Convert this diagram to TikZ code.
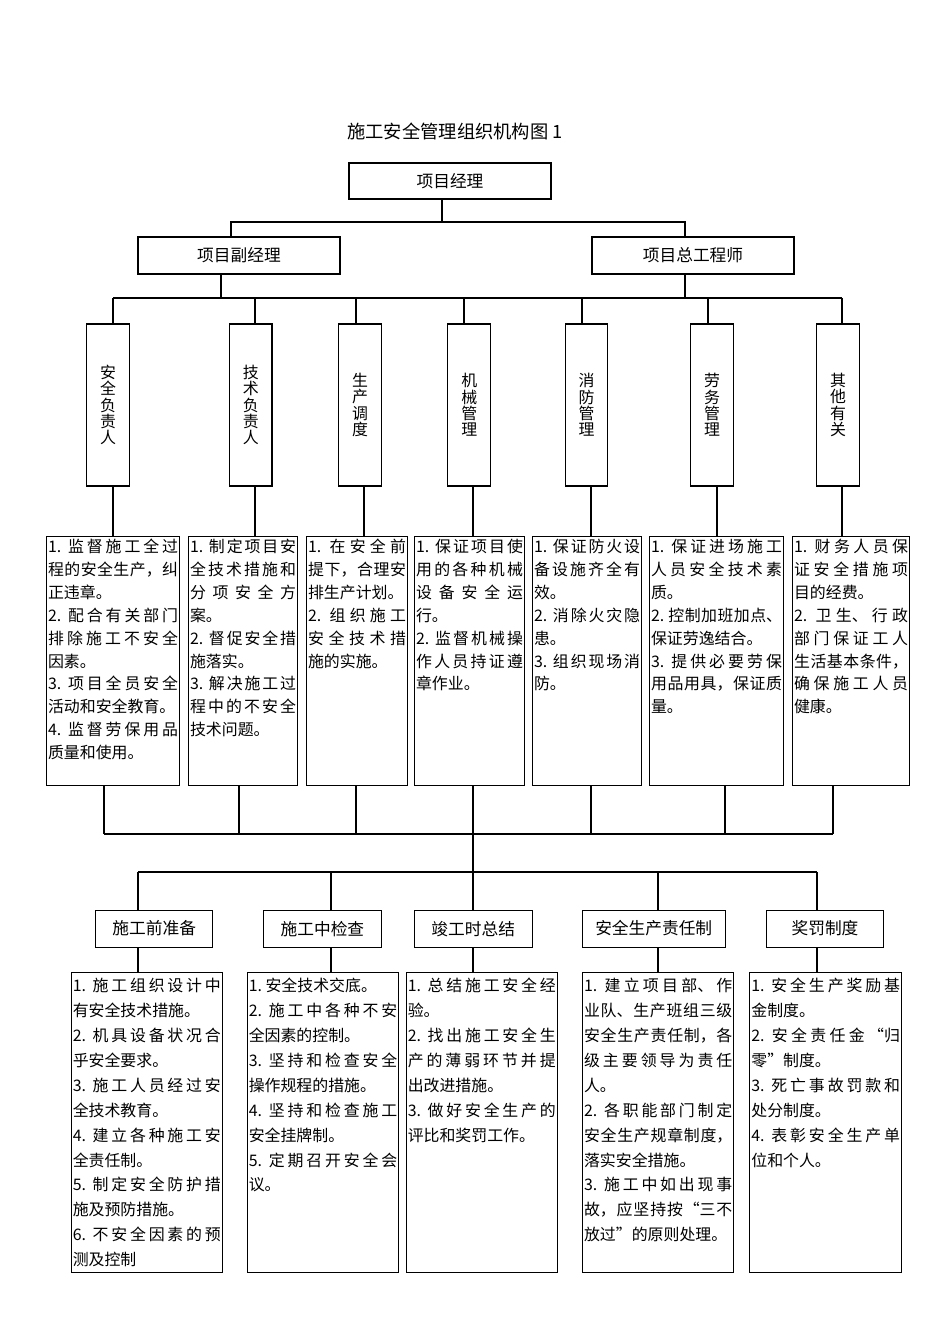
\documentclass[tikz,border=0pt]{standalone}
\usepackage{fontspec}
\setmainfont{Noto Sans CJK SC}
\XeTeXlinebreaklocale "zh"
\XeTeXlinebreakskip=0pt plus 1pt
\tolerance=10000
\hbadness=10000
\frenchspacing
\newlength\pxu
\setlength\pxu{0.0221cm}
\newcommand\lnbr{\linebreak}

\begin{document}
\begin{tikzpicture}[x=\pxu, y=-\pxu, line width=0.7pt,
  post/.style={draw, inner sep=0pt, minimum height=37\pxu, font=\fontsize{10.5}{12}\selectfont},
  role/.style={draw, inner sep=0pt, minimum width=42.6\pxu, minimum height=162\pxu, align=center, font=\fontsize{10}{10.2}\selectfont},
  duty/.style={draw, anchor=north west, inner xsep=1.5\pxu, inner ysep=0pt, text width=#1, align=justify, text height=16\pxu, text depth=233\pxu, font=\fontsize{10}{14.4}\selectfont},
  task/.style={draw, anchor=north west, inner xsep=1.5\pxu, inner ysep=0pt, text width=#1, align=justify, text height=19\pxu, text depth=281\pxu, font=\fontsize{10}{15.67}\selectfont}]
\useasboundingbox (0,0) rectangle (950,1344);
\node[font=\fontsize{11.5}{14}\selectfont] (title) at (455,131) {施工安全管理组织机构图 1};
\node[post, minimum width=202\pxu, minimum height=36\pxu] (pm) at (450,181) {项目经理};
\node[post, minimum width=202\pxu] (vpm) at (239,255.5) {项目副经理};
\node[post, minimum width=202\pxu] (eng) at (693,255.5) {项目总工程师};
\node[role] (t1) at (108,405) {安\\全\\负\\责\\人};
\node[role] (t2) at (250.7,405) {技\\术\\负\\责\\人};
\node[role] (t3) at (360,405) {生\\产\\调\\度};
\node[role] (t4) at (469.2,405) {机\\械\\管\\理};
\node[role] (t5) at (586.5,405) {消\\防\\管\\理};
\node[role] (t6) at (712,405) {劳\\务\\管\\理};
\node[role] (t7) at (838,405) {其\\他\\有\\关};
\node[duty=130\pxu] (d1) at (46,536) {1. 监督施工全过\lnbr 程的安全生产，纠\lnbr 正违章。\par 2. 配合有关部门\lnbr 排除施工不安全\lnbr 因素。\par 3. 项目全员安全\lnbr 活动和安全教育。\par 4. 监督劳保用品\lnbr 质量和使用。};
\node[duty=106\pxu] (d2) at (188,536) {1. 制定项目安\lnbr 全技术措施和\lnbr 分项安全方\lnbr 案。\par 2. 督促安全措\lnbr 施落实。\par 3. 解决施工过\lnbr 程中的不安全\lnbr 技术问题。};
\node[duty=98\pxu] (d3) at (306,536) {1. 在安全前\lnbr 提下，合理安\lnbr 排生产计划。\par 2. 组织施工\lnbr 安全技术措\lnbr 施的实施。};
\node[duty=107\pxu] (d4) at (414,536) {1. 保证项目使\lnbr 用的各种机械\lnbr 设备安全运\lnbr 行。\par 2. 监督机械操\lnbr 作人员持证遵\lnbr 章作业。};
\node[duty=106\pxu] (d5) at (532,536) {1. 保证防火设\lnbr 备设施齐全有\lnbr 效。\par 2. 消除火灾隐\lnbr 患。\par 3. 组织现场消\lnbr 防。};
\node[duty=131\pxu] (d6) at (649,536) {1. 保证进场施工\lnbr 人员安全技术素\lnbr 质。\par 2. 控制加班加点、\lnbr 保证劳逸结合。\par 3. 提供必要劳保\lnbr 用品用具，保证质\lnbr 量。};
\node[duty=114\pxu] (d7) at (792,536) {1. 财务人员保\lnbr 证安全措施项\lnbr 目的经费。\par 2. 卫生、行政\lnbr 部门保证工人\lnbr 生活基本条件，\lnbr 确保施工人员\lnbr 健康。};
\node[post, minimum width=117\pxu] (s1) at (154.2,928.6) {施工前准备};
\node[post, minimum width=117.3\pxu] (s2) at (322.4,928.6) {施工中检查};
\node[post, minimum width=118.3\pxu] (s3) at (473.2,928.6) {竣工时总结};
\node[post, minimum width=142.7\pxu] (s4) at (653.7,928.6) {安全生产责任制};
\node[post, minimum width=116.6\pxu] (s5) at (825,928.6) {奖罚制度};
\node[task=148\pxu] (r1) at (70.7,972) {1. 施工组织设计中\lnbr 有安全技术措施。\par 2. 机具设备状况合\lnbr 乎安全要求。\par 3. 施工人员经过安\lnbr 全技术教育。\par 4. 建立各种施工安\lnbr 全责任制。\par 5. 制定安全防护措\lnbr 施及预防措施。\par 6. 不安全因素的预\lnbr 测及控制};
\node[task=148.6\pxu] (r2) at (246.7,972) {1. 安全技术交底。\par 2. 施工中各种不安\lnbr 全因素的控制。\par 3. 坚持和检查安全\lnbr 操作规程的措施。\par 4. 坚持和检查施工\lnbr 安全挂牌制。\par 5. 定期召开安全会\lnbr 议。};
\node[task=148\pxu] (r3) at (405.7,972) {1. 总结施工安全经\lnbr 验。\par 2. 找出施工安全生\lnbr 产的薄弱环节并提\lnbr 出改进措施。\par 3. 做好安全生产的\lnbr 评比和奖罚工作。};
\node[task=148.3\pxu] (r4) at (582,972) {1. 建立项目部、作\lnbr 业队、生产班组三级\lnbr 安全生产责任制，各\lnbr 级主要领导为责任\lnbr 人。\par 2. 各职能部门制定\lnbr 安全生产规章制度，\lnbr 落实安全措施。\par 3. 施工中如出现事\lnbr 故，应坚持按“三不\lnbr 放过”的原则处理。};
\node[task=148.7\pxu] (r5) at (749.3,972) {1. 安全生产奖励基\lnbr 金制度。\par 2. 安全责任金“归\lnbr 零”制度。\par 3. 死亡事故罚款和\lnbr 处分制度。\par 4. 表彰安全生产单\lnbr 位和个人。};
\coordinate (j0) at (442,222);
\coordinate (ja) at (231,222);
\coordinate (jb) at (685,222);
\draw (pm.south -| j0) -- (j0);
\draw (vpm.north -| ja) -- (ja) -- (jb) -- (eng.north -| jb);
\coordinate (ka) at (221,298);
\coordinate (kb) at (685,298);
\draw (vpm.south -| ka) -- (ka);
\draw (eng.south -| kb) -- (kb);
\foreach \i/\a/\b/\c in {1/113/113/104, 2/255/255/239, 3/356/364/356, 4/464/473/473, 5/582/591/591, 6/708/717/725, 7/842/842/833}{
  \coordinate (k\i) at (\a,298);
  \coordinate (m\i) at (\c,834);
  \draw (k\i) -- (t\i.north -| k\i);
  \draw (t\i.south -| \b,0) -- (d\i.north -| \b,0);
  \draw (d\i.south -| m\i) -- (m\i);
}
\draw (k1) -- (k7);
\draw[line width=1.3pt] (m1) -- (m7);
\foreach \i/\x in {1/138, 2/331, 3/473, 4/658, 5/817}{
  \coordinate (n\i) at (\x,872);
  \draw (n\i) -- (s\i.north -| n\i);
  \draw (s\i.south -| n\i) -- (r\i.north -| n\i);
}
\draw (m4) -- (n3);
\draw[line width=0.9pt] (n1) -- (n5);
\end{tikzpicture}
\end{document}
